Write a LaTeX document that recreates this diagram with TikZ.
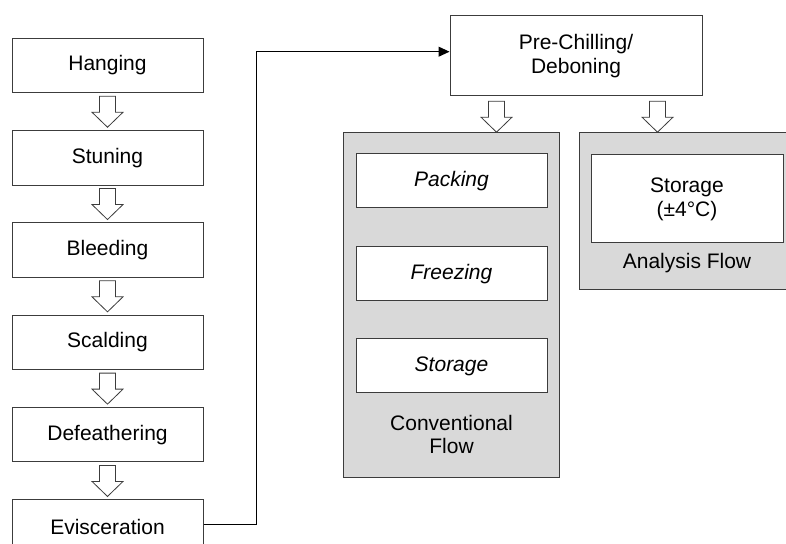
\documentclass[tikz,border=0pt]{standalone}
\usepackage{fontspec}
\setmainfont{Liberation Sans}
\usetikzlibrary{arrows.meta, positioning}
\definecolor{panelgray}{RGB}{217,217,217}
\definecolor{boxline}{RGB}{60,60,60}
\tikzset{
    stepbox/.style={rectangle, draw=boxline, fill=white, line width=1pt,
                    minimum width=191pt, minimum height=54.5pt, align=center,
                    inner sep=2pt, font=\fontsize{21}{24}\selectfont},
    chillbox/.style={stepbox, minimum width=252pt, minimum height=80pt},
    panel/.style={rectangle, draw=boxline, fill=panelgray, line width=1pt,
                  minimum width=216pt, inner sep=0pt},
    innerbox/.style={stepbox, minimum width=191pt, minimum height=54pt},
    panellabel/.style={align=center, inner sep=0pt, font=\fontsize{21}{23}\selectfont},
    arrow/.style={-{Triangle[length=11pt, width=10pt]}, line width=1pt},
    hollowdown/.pic={
        \draw[draw=boxline, fill=white, line width=0.8pt]
            (-8,0) -- (-8,-16) -- (-15.5,-16) -- (0,-31) -- (15.5,-16)
            -- (8,-16) -- (8,0) -- cycle;
    },
}

\begin{document}
\begin{tikzpicture}[x=1pt, y=1pt]

    \useasboundingbox (0,0) rectangle (786,543);
    \clip (0,0) rectangle (786,543);

    % slaughter line, left column
    \node[stepbox] (hanging) at (107.5,477.5) {Hanging};
    \node[stepbox, below=36.8pt of hanging] (stuning) {Stuning};
    \node[stepbox, below=36.8pt of stuning] (bleeding) {Bleeding};
    \node[stepbox, below=36.8pt of bleeding] (scalding) {Scalding};
    \node[stepbox, below=36.8pt of scalding] (defeather) {Defeathering};
    \node[stepbox, below=36.8pt of defeather] (evisc) {Evisceration};

    \foreach \n in {hanging, stuning, bleeding, scalding, defeather}
        \pic at ([yshift=-3pt]\n.south) {hollowdown};

    \node[chillbox] (prechill) at (576,487.3) {Pre-Chilling/\\Deboning};

    \draw[arrow] ([yshift=3pt]evisc.east) -- ++(53,0)
        |- ([yshift=4pt]prechill.west);

    % the two flows
    \node[panel, minimum height=345pt] (convpanel) at (451.5,237.5) {};
    \node[panel, minimum height=157pt] (anapanel) at (687,331.5) {};

    \pic at ([xshift=-79.5pt, yshift=-5pt]prechill.south) {hollowdown};
    \pic at ([xshift=81.5pt, yshift=-5pt]prechill.south) {hollowdown};

    \node[innerbox, below=21pt of convpanel.north] (packing) {\itshape Packing};
    \node[innerbox, below=38pt of packing] (freezing) {\itshape Freezing};
    \node[innerbox, below=37pt of freezing] (convstore) {\itshape Storage};
    \node[panellabel] (convlabel) at ([yshift=-41pt]convstore.south)
        {Conventional\\Flow};

    \node[innerbox, minimum width=192pt, minimum height=88pt,
          below=22pt of anapanel.north] (anastore) {Storage\\(±4°C)};
    \node[panellabel] (analabel) at ([yshift=-20pt]anastore.south)
        {Analysis Flow};

\end{tikzpicture}
\end{document}
